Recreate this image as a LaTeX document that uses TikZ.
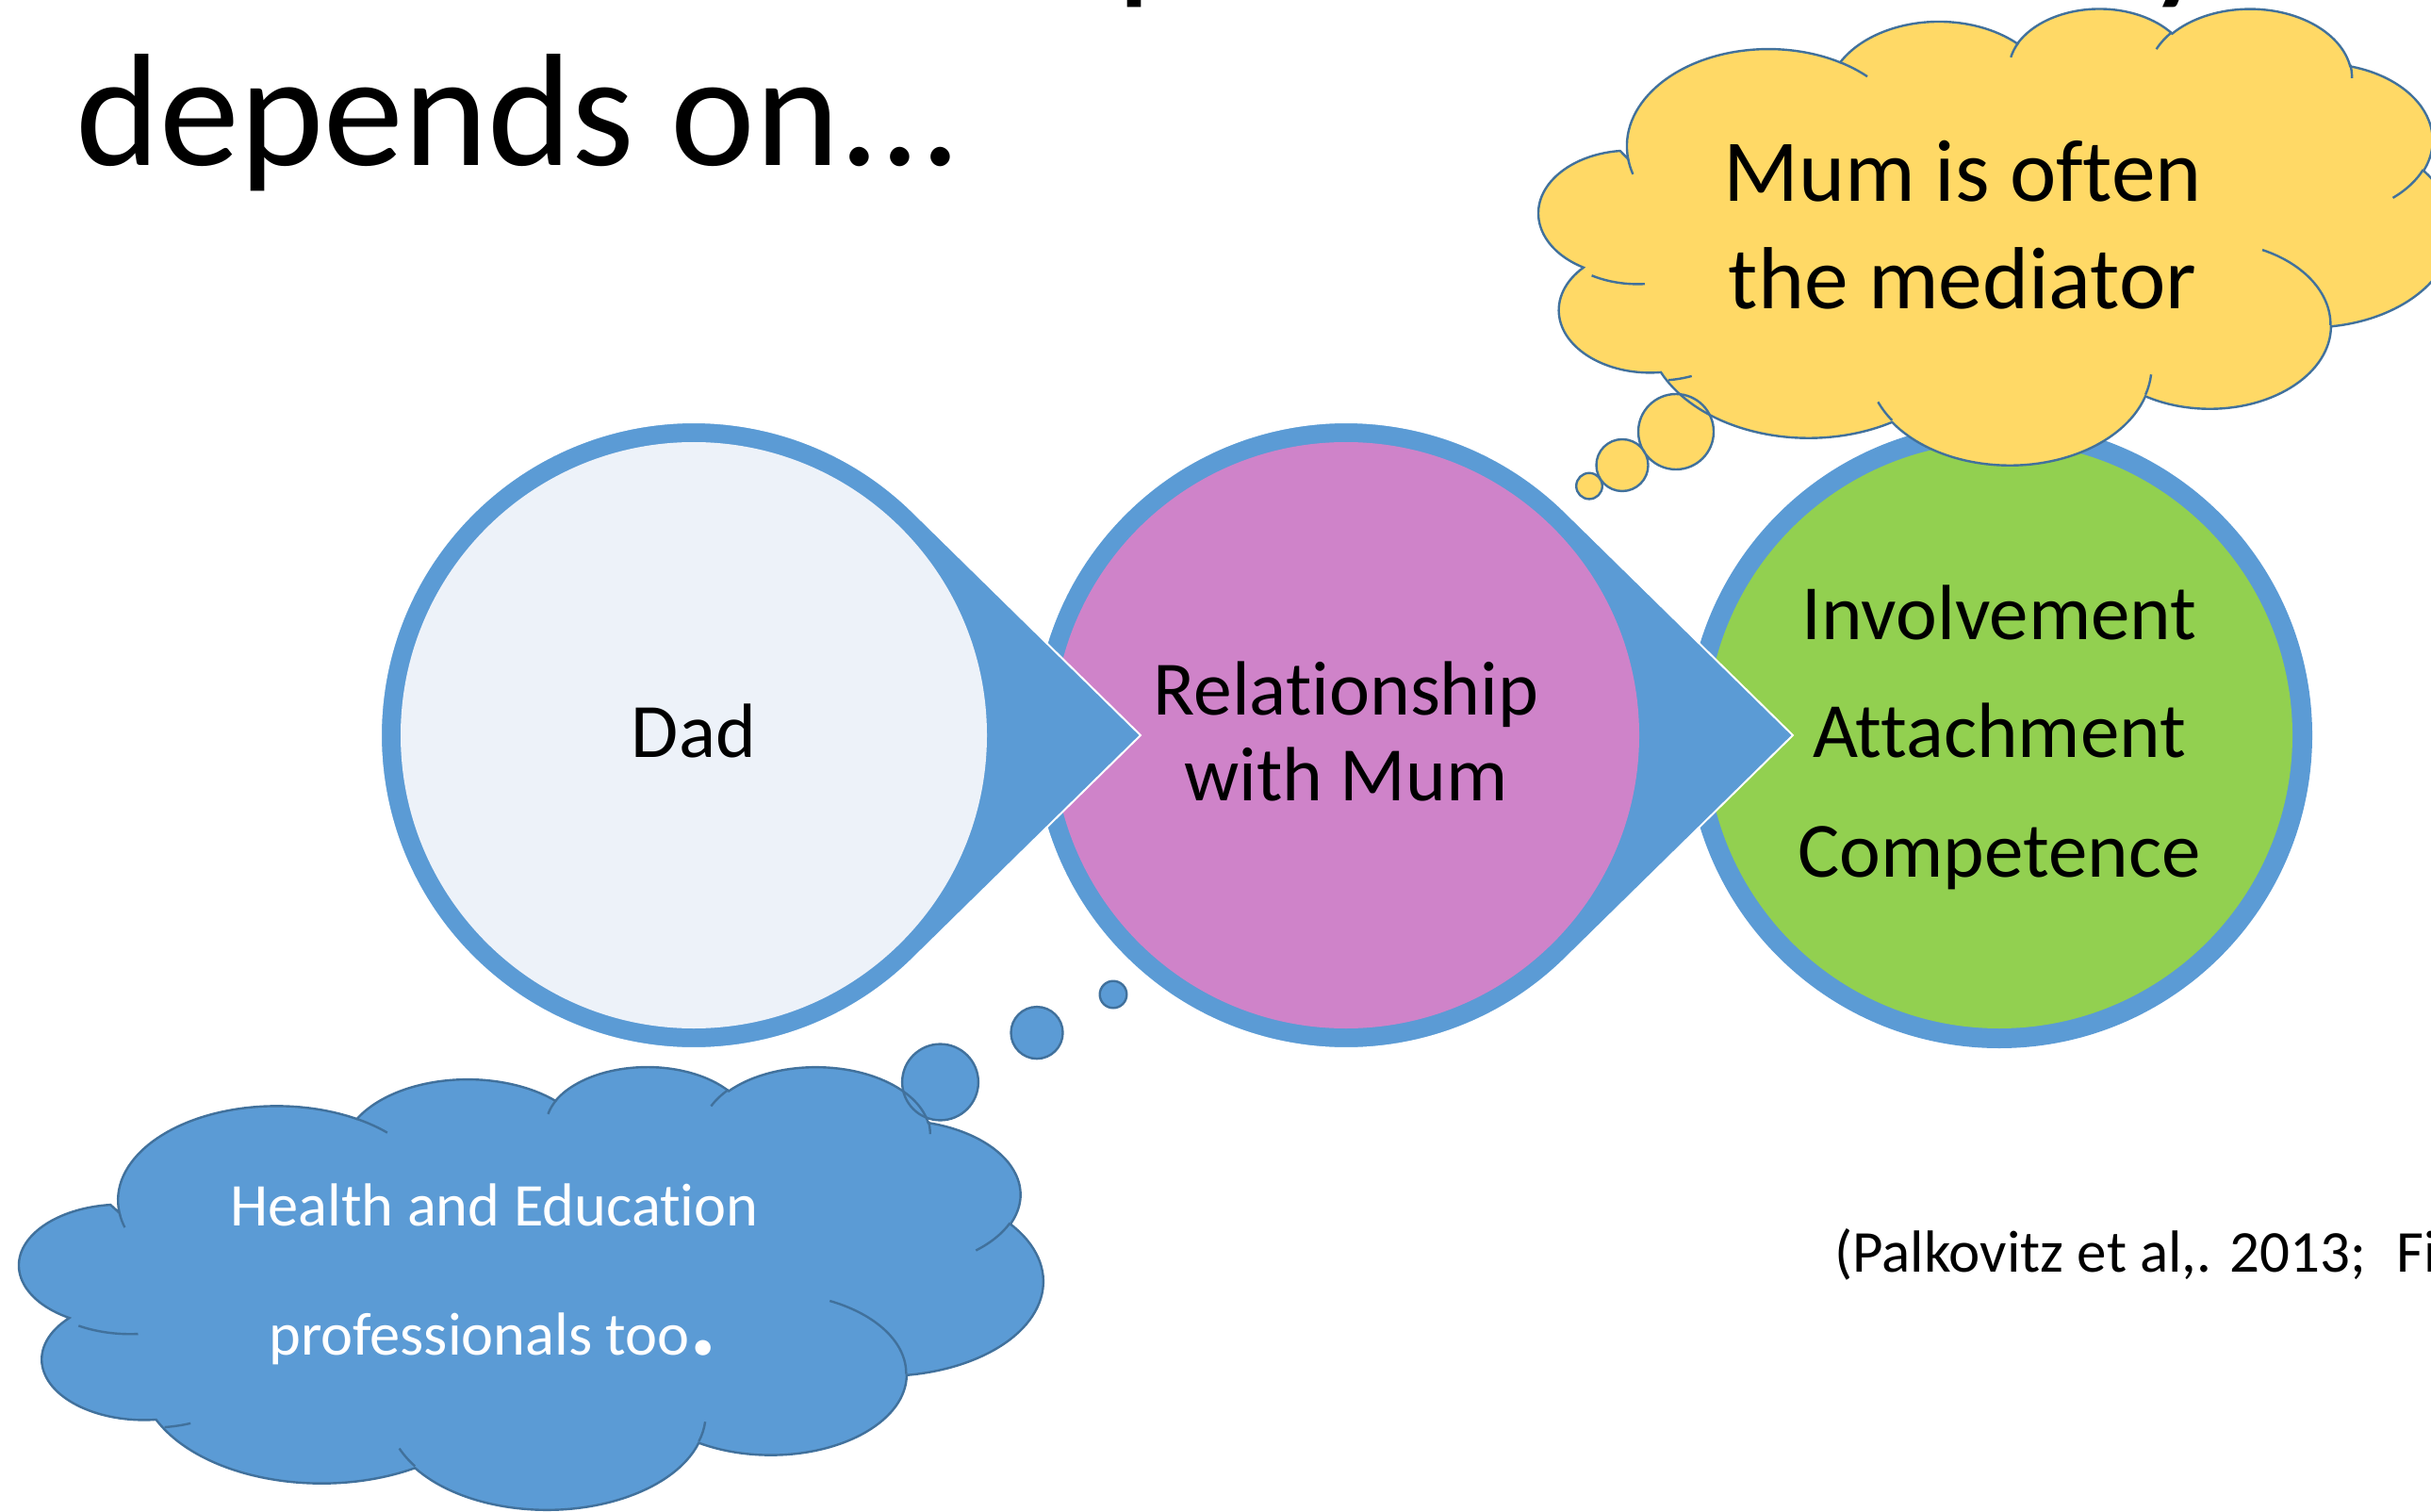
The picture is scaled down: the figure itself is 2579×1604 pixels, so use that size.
\documentclass[tikz,border=0pt]{standalone}
\usepackage{fontspec}
\setmainfont[Ligatures=NoCommon]{Carlito}
\definecolor{ringblue}{HTML}{5B9BD5}
\definecolor{dadfill}{HTML}{EDF2F9}
\definecolor{pinkfill}{HTML}{CF83C9}
\definecolor{greenfill}{HTML}{92D050}
\definecolor{yellowfill}{HTML}{FFD966}
\definecolor{cloudline}{HTML}{41719C}
% Office-style arcTo: wR, hR, start (visual angle), sweep
\newcommand\ooarc[4]{arc[x radius=#1,y radius=#2,start angle={atan2((#1)*sin(#3),(#2)*cos(#3))},delta angle={mod(atan2((#1)*sin((#3)+(#4)),(#2)*cos((#3)+(#4)))-atan2((#1)*sin(#3),(#2)*cos(#3))+720,360)}]}
\newcommand\cloudmain{(39,143.70) \ooarc{67.53}{91.90}{-190.4875}{123.7805} \ooarc{53.33}{72.67}{-144.1024}{89.9452} \ooarc{43.65}{59.45}{-145.8079}{99.7230} \ooarc{48.57}{65.95}{-130.9861}{117.2417} \ooarc{53.33}{72.73}{-78.7089}{109.0269} \ooarc{67.75}{92.20}{-46.2673}{130.2690} \ooarc{57.85}{78.67}{0.6250}{114.0333} \ooarc{67.52}{92.15}{22.4516}{115.1726} \ooarc{77.20}{105.43}{66.2426}{82.2739} \ooarc{43.60}{59.18}{-274.9421}{146.7356} \ooarc{43.45}{59.45}{-246.8285}{152.5189} -- cycle}
\newcommand\cloudinner{(46.93,261.77) \ooarc{43.45}{59.45}{86.7420}{26.4295} (69.28,348.99) \ooarc{43.60}{59.18}{73.6105}{11.4475} (164.78,390.90) \ooarc{67.52}{92.15}{137.6242}{14.0811} (288.27,347.51) \ooarc{67.52}{92.15}{6.4533}{15.9984} (341.29,229.54) \ooarc{57.85}{78.67}{-70.2924}{70.9174} (417.98,153.54) \ooarc{53.33}{72.73}{30.3180}{27.7515} (383.24,54.26) \ooarc{48.57}{65.95}{-13.7443}{14.8589} (290.78,39.52) \ooarc{48.57}{65.95}{-149.1815}{18.1954} (221.41,47.20) \ooarc{43.65}{59.45}{-163.4943}{17.6864} (140.00,51.92) \ooarc{67.53}{91.90}{-66.7070}{12.3194} (41.27,157.89) \ooarc{67.53}{91.90}{157.6544}{11.8582}}
\begin{document}
\begin{tikzpicture}[x=0.5pt,y=-0.5pt,
  ring/.style={fill=ringblue},
  tipshape/.style={fill=ringblue,draw=white,line width=1pt,line join=miter},
  cloudedge/.style={draw=cloudline,line width=1.2pt},
  bigtxt/.style={font=\fontsize{40.8}{48}\selectfont,inner sep=0pt,anchor=base},
  greentxt/.style={font=\fontsize{41.5}{48}\selectfont,inner sep=0pt,anchor=base},
  yellowtxt/.style={font=\fontsize{46.75}{56}\selectfont,inner sep=0pt,anchor=base},
  bluetxt/.style={font=\fontsize{32.2}{38}\selectfont,text=white,inner sep=0pt,anchor=base west},
  ttl/.style={font=\fontsize{85}{100}\selectfont,inner sep=0pt,anchor=base west},
  yellowbox/.style={shift={(1640.5,7.9)},xscale=2.2255,yscale=1.1205},
  bluebox/.style={shift={(29.5,1130.5)},xscale=2.4928,yscale=1.0870}]
\useasboundingbox (0,0) rectangle (2579,1604);
\fill[white] (0,0) rectangle (2579,1604);

\coordinate (cD) at (736,780);
\coordinate (tD) at (1210,780);
\coordinate (cP) at (1428,780);
\coordinate (tP) at (1902,780);
\coordinate (cG) at (2121,780);

% green circle
\fill[ring] (cG) circle[radius=332];
\fill[greenfill] (cG) circle[radius=311];
% pink teardrop
\path[tipshape] (tP) -- ([shift={(45.54:332)}]cP) arc[start angle=45.54,end angle=314.46,radius=332] -- cycle;
\fill[pinkfill] (cP) circle[radius=311];
% dad teardrop
\path[tipshape] (tD) -- ([shift={(45.54:332)}]cD) arc[start angle=45.54,end angle=314.46,radius=332] -- cycle;
\fill[dadfill] (cD) circle[radius=311];

% title
\node[ttl] (title) at (80,176) {depends on...};
\node[ttl] (ttlp) at (1184,-19) {p};
\node[ttl] (ttly) at (2276,-19) {y};

% circle texts
\node[bigtxt] (dad) at (736,803) {Dad};
\node[bigtxt] (rel1) at (1428,758) {Relationship};
\node[bigtxt] (rel2) at (1428,849) {with Mum};
\node[greentxt] (g1) at (2121,678) {Involvement};
\node[greentxt] (g2) at (2121,803) {Attachment};
\node[greentxt] (g3) at (2121,930) {Competence};

% yellow cloud callout
\begin{scope}[yellowbox]
  \fill[yellowfill] \cloudmain;
\end{scope}
\fill[yellowfill] (1778,458) circle[radius=40] (1721,493.5) circle[radius=27.5] (1686,515.6) circle[radius=13.8];
\begin{scope}[yellowbox]
  \path[cloudedge] \cloudmain;
  \path[cloudedge] \cloudinner;
\end{scope}
\path[cloudedge] (1778,458) circle[radius=40] (1721,493.5) circle[radius=27.5] (1686,515.6) circle[radius=13.8];
\node[yellowtxt] (mum1) at (2082,213.7) {Mum is often};
\node[yellowtxt] (mum2) at (2082,328) {the mediator};

% blue cloud callout
\begin{scope}[bluebox]
  \fill[ringblue] \cloudmain;
\end{scope}
\fill[ringblue] (997.5,1148) circle[radius=40.4] (1100,1095.6) circle[radius=27.5] (1181,1055) circle[radius=14.3];
\begin{scope}[bluebox]
  \path[cloudedge] \cloudmain;
  \path[cloudedge] \cloudinner;
\end{scope}
\path[cloudedge] (997.5,1148) circle[radius=40.4] (1100,1095.6) circle[radius=27.5] (1181,1055) circle[radius=14.3];
\node[bluetxt] (hp1) at (244,1300) {Health and Education};
\node[bluetxt] (hp2) at (285,1437) {professionals too{\fontsize{55}{55}\selectfont\bfseries .}};

% citation
\node[font=\fontsize{31.5}{37}\selectfont,inner sep=0pt,anchor=base west] (cite) at (1946,1349) {(Palkovitz et al,. 2013;\hspace{16pt}Fi};
\end{tikzpicture}
\end{document}
